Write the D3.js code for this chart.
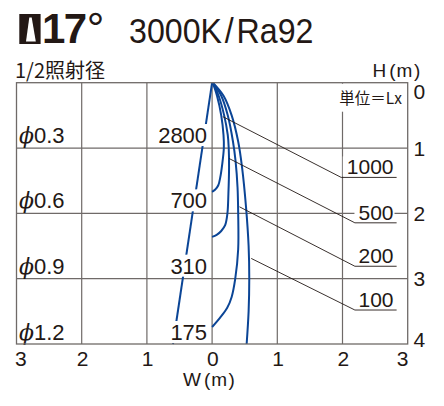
<!DOCTYPE html>
<html><head><meta charset="utf-8">
<script src="https://cdn.jsdelivr.net/npm/d3@7"></script>
<style>body{margin:0;background:#fff}svg{display:block}</style>
</head><body><svg id="c" width="444" height="406"></svg>
<script>
// ---- data ----
const W_TICKS = [-3, -2, -1, 0, 1, 2, 3];
const H_TICKS = [0, 1, 2, 3, 4];
const GRID_W = [-2, -1, 0, 1, 2];
const GRID_H = [1, 2, 3];
const DIAM_H = [1, 2, 3, 4];
const DIAMETERS = ["0.3", "0.6", "0.9", "1.2"];
const CENTER_LUX = ["2800", "700", "310", "175"];
const LUX_LEVELS = ["1000", "500", "200", "100"];
const ISO_1000 = [[0.01,0],[0.075,0.2],[0.14,0.5],[0.175,0.8],[0.18,1.0],[0.155,1.25],[0.125,1.45],[0.095,1.57],[0.045,1.64],[0,1.67]];
const ISO_500  = [[0.01,0],[0.10,0.2],[0.185,0.5],[0.24,0.8],[0.255,1.0],[0.26,1.3],[0.25,1.7],[0.235,2.0],[0.2,2.18],[0.14,2.27],[0.07,2.33],[0,2.36]];
const ISO_200  = [[0.01,0],[0.14,0.2],[0.24,0.5],[0.32,0.9],[0.36,1.2],[0.39,1.6],[0.40,2.0],[0.40,2.55],[0.355,3.0],[0.30,3.28],[0.23,3.45],[0.12,3.6],[0,3.74]];
const ISO_100  = [[0.01,0],[0.175,0.2],[0.30,0.5],[0.40,0.9],[0.46,1.3],[0.52,1.9],[0.56,2.5],[0.57,3.0],[0.56,3.5],[0.53,4.0]];
const ISOLINES = [ISO_1000, ISO_500, ISO_200, ISO_100];
// leader annotations: point on curve, bend point, label line height (m)
const LEADER_FROM = [[0.165,0.52],[0.26,1.16],[0.42,1.9],[0.60,2.69]];
const LEADER_BEND_W = [1.98, 2.19, 2.19, 2.19];
const LEADER_H = [1.45, 2.145, 2.81, 3.48];
const LEADER_END_W = 2.83;

const INK = "#231815", GRID = "#6f6a68", BLUE = "#0b4596";
const LATIN = "'Liberation Sans', Arial, sans-serif";
const CJK = "'Noto Sans CJK JP', sans-serif";

const svg = d3.select("#c");
const x = d3.scaleLinear().domain([-3, 3]).range([16.5, 407.7]);
const y = d3.scaleLinear().domain([0, 4]).range([82.7, 344]);

// ---- title ----
svg.append("rect").attr("x", 19.3).attr("y", 14).attr("width", 21.3).attr("height", 30).attr("fill", INK);
svg.append("polygon").attr("points", "29.3,17.5 31.7,17.5 35.8,41.5 26,41.5").attr("fill", "#fff");
const t17 = svg.append("text").attr("x", 42).attr("y", 43).attr("font-family", LATIN)
  .attr("font-size", 42).attr("fill", INK);
t17.append("tspan").attr("font-weight", "bold").attr("letter-spacing", -1.5).text("17");
t17.append("tspan").attr("font-size", 44).attr("dx", 1).attr("dy", 1).text("°");
const tK = svg.append("text").attr("transform", "translate(129,43.3) scale(0.92,1)").attr("font-family", LATIN)
  .attr("font-size", 35).attr("fill", INK);
tK.append("tspan").text("3000K");
tK.append("tspan").attr("dx", 3).text("/");
tK.append("tspan").attr("dx", 3).text("Ra92");
svg.append("text").attr("x", 15).attr("y", 78).attr("font-family", CJK).attr("font-size", 20).attr("fill", INK).text("1/2照射径");

// ---- grid ----
const g = svg.append("g");
g.selectAll(".gv").data(GRID_W).join("line")
  .attr("x1", d => x(d)).attr("x2", d => x(d)).attr("y1", y(0)).attr("y2", y(4))
  .attr("stroke", GRID).attr("stroke-width", 1.2);
g.selectAll(".gh").data(GRID_H).join("line")
  .attr("y1", d => y(d)).attr("y2", d => y(d)).attr("x1", x(-3)).attr("x2", x(3))
  .attr("stroke", GRID).attr("stroke-width", 1.2);

// ---- beam edge line ----
const halfEdge = parseFloat(DIAMETERS[3]) / 2;
g.append("line").attr("x1", x(0)).attr("y1", y(0)).attr("x2", x(-halfEdge)).attr("y2", y(DIAM_H[3]))
  .attr("stroke", BLUE).attr("stroke-width", 2);

// ---- label helper with white background ----
function label(parent, px, py, txt, opts) {
  const t = parent.append("text").attr("x", px).attr("y", py).attr("font-family", opts.family || LATIN)
    .attr("font-size", opts.size).attr("fill", INK).attr("text-anchor", opts.anchor || "start");
  if (opts.phi) {
    t.append("tspan").attr("font-family", "'DejaVu Serif', serif").attr("font-style", "italic").text("ϕ");
    t.append("tspan").text(txt);
  } else t.text(txt);
  if (opts.bg) {
    const b = t.node().getBBox();
    const p = opts.bg;
    parent.insert("rect", () => t.node())
      .attr("x", b.x - p[3]).attr("y", b.y - p[0])
      .attr("width", b.width + p[1] + p[3]).attr("height", b.height + p[0] + p[2]).attr("fill", "#fff");
  }
  return t;
}
const lg = svg.append("g");

// diameter labels on left
DIAM_H.forEach((h, i) => {
  label(lg, 19, y(h) - (h === 4 ? 4 : 5), DIAMETERS[i], {size: 22, phi: true});
});
// center illuminance labels
DIAM_H.forEach((h, i) => {
  label(lg, x(0) - 5, y(h) - (h === 4 ? 4 : 5), CENTER_LUX[i], {size: 22, anchor: "end", bg: [-1, 2, -2, 6]});
});

// unit label (white backing hides the top of the W=2 grid line)
lg.append("rect").attr("x", 334).attr("y", y(0) + 1).attr("width", 70).attr("height", 28).attr("fill", "#fff");
lg.append("text").attr("x", 402).attr("y", 103.5).attr("text-anchor", "end").attr("font-family", CJK)
  .attr("font-size", 15.5).attr("fill", INK).text("単位＝Lx");

// ---- isolux curves ----
const line = d3.line().x(d => x(d[0])).y(d => y(d[1])).curve(d3.curveCatmullRom.alpha(0.5));
svg.append("g").selectAll("path").data(ISOLINES).join("path")
  .attr("d", line).attr("fill", "none").attr("stroke", BLUE).attr("stroke-width", 2);

// ---- leaders & lux legend ----
const ll = svg.append("g");
LUX_LEVELS.forEach((lv, i) => {
  label(ll, 393.5, y(LEADER_H[i]) - 3, lv, {size: 21, anchor: "end", bg: [-1, 1, -2, 4]});
  ll.append("polyline")
    .attr("points", [[x(LEADER_FROM[i][0]), y(LEADER_FROM[i][1])], [x(LEADER_BEND_W[i]), y(LEADER_H[i])], [x(LEADER_END_W), y(LEADER_H[i])]].map(p => p.join(",")).join(" "))
    .attr("fill", "none").attr("stroke", INK).attr("stroke-width", 0.9);
});

// ---- frame ----
svg.append("rect").attr("x", x(-3)).attr("y", y(0)).attr("width", x(3) - x(-3)).attr("height", y(4) - y(0))
  .attr("fill", "none").attr("stroke", GRID).attr("stroke-width", 1.3);

// ---- axis labels ----
const ax = svg.append("g").attr("font-family", LATIN).attr("font-size", 21).attr("fill", INK);
W_TICKS.forEach((w, i) => {
  const anchor = i === 0 ? "start" : (i === W_TICKS.length - 1 ? "end" : "middle");
  const px = i === 0 ? x(w) - 1.5 : (i === W_TICKS.length - 1 ? x(w) + 0.8 : x(w) + 0.8);
  ax.append("text").attr("x", px).attr("y", 365.5).attr("text-anchor", anchor).text(Math.abs(w));
});
H_TICKS.forEach((h, i) => {
  const cy = h === 0 ? y(h) + 9 : (h === 4 ? y(h) - 4.5 : y(h));
  ax.append("text").attr("x", 413.5).attr("y", cy + 7.5).attr("text-anchor", "start").text(h);
});
function unitLabel(px, py, letter) {
  const t = svg.append("text").attr("x", px).attr("y", py).attr("font-family", LATIN)
    .attr("font-size", 19).attr("fill", INK);
  t.append("tspan").text(letter);
  t.append("tspan").attr("dx", 3).text("(");
  t.append("tspan").attr("dx", 1).text("m");
  t.append("tspan").attr("dx", 1.5).text(")");
}
unitLabel(372.5, 77, "H");
unitLabel(183, 386, "W");
</script></body></html>
